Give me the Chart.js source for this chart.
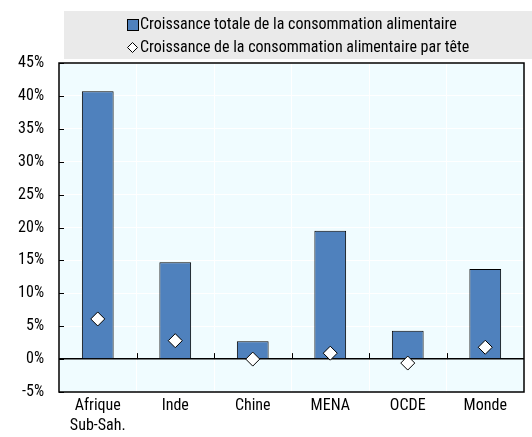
<!DOCTYPE html>
<html>
<head>
<meta charset="utf-8">
<script src="https://cdn.jsdelivr.net/npm/chart.js@4"></script>
<style>
  html, body { margin: 0; padding: 0; background: #fff; }
  #wrap { width: 532px; height: 437px; }
</style>
</head>
<body>
<div id="wrap"><canvas id="myChart" width="532" height="437"></canvas></div>
<script>
const labels = [['Afrique', 'Sub-Sah.'], 'Inde', 'Chine', 'MENA', 'OCDE', 'Monde'];
const totalGrowth = [40.7, 14.7, 2.7, 19.5, 4.3, 13.7];
const perCapitaGrowth = [6.1, 2.8, 0.0, 0.9, -0.6, 1.8];
const yTicks = [-5, 0, 5, 10, 15, 20, 25, 30, 35, 40, 45];

const FONT = "'Roboto Condensed', 'Liberation Sans', sans-serif";
const BLUE = '#4F81BD';

// plot background + frame + small inside ticks + legend box
const decor = {
    id: 'decor',
    beforeDraw(chart) {
        const a = chart.chartArea, ctx = chart.ctx;
        ctx.save();
        ctx.fillStyle = '#F0FCFF';
        ctx.fillRect(a.left, a.top, a.right - a.left, a.bottom - a.top);
        ctx.restore();
    },
    afterDraw(chart) {
        const a = chart.chartArea, ctx = chart.ctx;
        const x = chart.scales.x, y = chart.scales.y;
        ctx.save();
        ctx.strokeStyle = '#000';
        ctx.lineWidth = 1.5;
        ctx.strokeRect(a.left, a.top, a.right - a.left, a.bottom - a.top);
        // y ticks inside the frame
        ctx.lineWidth = 1;
        yTicks.forEach(v => {
            const py = Math.round(y.getPixelForValue(v)) + 0.5;
            ctx.beginPath();
            ctx.moveTo(a.left, py);
            ctx.lineTo(a.left + 5, py);
            ctx.stroke();
        });
        // x ticks at category boundaries on the zero line
        const zy = y.getPixelForValue(0);
        for (let i = 1; i < labels.length; i++) {
            const px = Math.round((x.getPixelForValue(i - 1) + x.getPixelForValue(i)) / 2) + 0.5;
            ctx.beginPath();
            ctx.moveTo(px, zy);
            ctx.lineTo(px, zy - 6);
            ctx.stroke();
        }
        // legend
        ctx.fillStyle = '#EAEAEA';
        ctx.fillRect(64, 11, 468, 48);
        ctx.font = '16px ' + FONT;
        ctx.textBaseline = 'middle';
        const ds = chart.data.datasets;
        // bar item
        ctx.fillStyle = BLUE;
        ctx.fillRect(127.5, 19.5, 11, 11);
        ctx.strokeStyle = '#000';
        ctx.strokeRect(127.5, 19.5, 11, 11);
        ctx.fillStyle = '#000';
        ctx.fillText(ds[1].label, 140, 25);
        // diamond item
        ctx.beginPath();
        ctx.moveTo(132.5, 42.5);
        ctx.lineTo(137.5, 47.5);
        ctx.lineTo(132.5, 52.5);
        ctx.lineTo(127.5, 47.5);
        ctx.closePath();
        ctx.fillStyle = '#fff';
        ctx.fill();
        ctx.stroke();
        ctx.fillStyle = '#000';
        ctx.fillText(ds[0].label, 140, 48);
        ctx.restore();
    }
};

const data = {
    labels: labels,
    datasets: [{
        type: 'line',
        label: 'Croissance de la consommation alimentaire par tête',
        data: perCapitaGrowth,
        showLine: false,
        pointStyle: 'rectRot',
        pointRadius: 7,
        pointBackgroundColor: '#fff',
        pointBorderColor: '#000',
        pointBorderWidth: 1,
        order: 0,
    }, {
        type: 'bar',
        label: 'Croissance totale de la consommation alimentaire',
        data: totalGrowth,
        backgroundColor: BLUE,
        borderColor: '#000',
        borderWidth: 1,
        categoryPercentage: 1,
        barPercentage: 0.41,
        order: 1,
    }]
};

const config = {
    type: 'bar',
    data: data,
    plugins: [decor],
    options: {
        responsive: false,
        animation: false,
        layout: {
            padding: { top: 63, right: 1, left: 0, bottom: 0 }
        },
        plugins: {
            legend: { display: false },
            tooltip: { enabled: false },
        },
        scales: {
            x: {
                offset: true,
                grid: {
                    offset: true,
                    color: '#ffffff',
                    drawTicks: false,
                },
                border: { display: false },
                ticks: {
                    color: '#000',
                    font: { family: FONT, size: 16, lineHeight: 1.25 },
                    padding: 4,
                    maxRotation: 0,
                    autoSkip: false,
                },
                afterFit(scale) { scale.height = 45; },
            },
            y: {
                min: -5,
                max: 45,
                grid: {
                    color: ctx => ctx.tick && ctx.tick.value === 0 ? '#000' : '#ffffff',
                    lineWidth: ctx => ctx.tick && ctx.tick.value === 0 ? 1.5 : 1,
                    drawTicks: false,
                },
                border: { display: false },
                ticks: {
                    stepSize: 5,
                    color: '#000',
                    font: { family: FONT, size: 16 },
                    padding: 15,
                    callback: v => v + '%',
                },
                afterFit(scale) { scale.width = 59; },
            }
        }
    },
};

var myChart = new Chart(document.getElementById('myChart'), config);
</script>
</body>
</html>
